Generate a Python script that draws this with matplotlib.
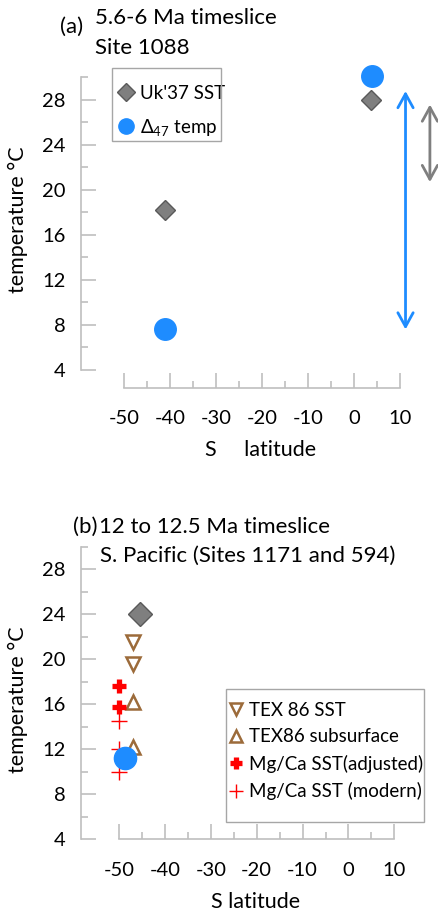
import matplotlib
matplotlib.use("Agg")
import matplotlib.pyplot as plt
from matplotlib.ticker import FixedLocator
from matplotlib.lines import Line2D
from matplotlib.patches import Rectangle

plt.rcParams['font.family'] = ['Lato', 'DejaVu Sans']
plt.rcParams['mathtext.fontset'] = 'custom'
plt.rcParams['mathtext.rm'] = 'Lato'
plt.rcParams['axes.unicode_minus'] = False

# ---- data ----
# panel (a): 5.6-6 Ma, Site 1088
a_uk_lat = [-41, 3.8]
a_uk_temp = [18.2, 28.0]
a_d47_lat = [-41, 4.0]
a_d47_temp = [7.6, 30.1]
a_blue_arrow = [11.2, 7.6, 28.8]   # lat, from, to
a_gray_arrow = [16.5, 20.7, 27.6]

# panel (b): 12 to 12.5 Ma, S. Pacific
b_uk_lat = [-45.4]
b_uk_temp = [24.0]
b_tex_sst_lat = [-47, -47]
b_tex_sst = [21.5, 19.6]
b_tex_sub_lat = [-47, -47]
b_tex_sub = [16.2, 12.2]
b_mg_adj_lat = [-49.9, -49.9]
b_mg_adj = [17.6, 15.8]
b_mg_mod_lat = [-50, -50, -50]
b_mg_mod = [14.5, 12.0, 10.0]
b_d47_lat = [-48.7]
b_d47_temp = [11.2]

x_major = [-50, -40, -30, -20, -10, 0, 10]
x_minor = [-45, -35, -25, -15, -5, 5]
y_major = [4, 8, 12, 16, 20, 24, 28]
y_minor = [6, 10, 14, 18, 22, 26, 30]

W, H = 438, 913
BLUE = '#1E8CFF'
GRAY = '#7f7f7f'
BROWN = '#9C6B3A'
RED = '#FF0000'
SPINE = '#bfbfbf'
FRAME = '#a6a6a6'

fig = plt.figure(figsize=(W / 100, H / 100), dpi=100)


def fx(px):
    return px / W


def fy(py):
    return 1 - py / H


def make_axes(x50px, pxx, y4px, pxy, top, bottom, xaxis_y):
    # axes covering pixel rows top..bottom, columns 81..438
    left, right = 81, W
    ax = fig.add_axes([left / W, 1 - bottom / H, (right - left) / W, (bottom - top) / H])
    ax.set_xlim(-50 + (left - x50px) / pxx, -50 + (right - x50px) / pxx)
    ax.set_ylim(4 - (bottom - y4px) / pxy, 4 + (y4px - top) / pxy)
    for s in ['top', 'right']:
        ax.spines[s].set_visible(False)
    for s in ['left', 'bottom']:
        ax.spines[s].set_color(SPINE)
        ax.spines[s].set_linewidth(1.2)
    ax.spines['left'].set_bounds(4, 30)
    ax.spines['bottom'].set_bounds(-50, 10)
    ax.spines['bottom'].set_position(('data', xaxis_y))
    ax.xaxis.set_major_locator(FixedLocator(x_major))
    ax.xaxis.set_minor_locator(FixedLocator(x_minor))
    ax.yaxis.set_major_locator(FixedLocator(y_major))
    ax.yaxis.set_minor_locator(FixedLocator(y_minor))
    ax.tick_params(which='major', direction='in', length=10.5, width=1.2,
                   color=SPINE, labelsize=14.5, pad=11)
    ax.tick_params(which='minor', direction='in', length=5, width=1.2, color=SPINE)
    ax.tick_params(axis='x', which='major', pad=16)
    ax.set_facecolor('none')
    return ax


def dbl_arrow(ax, lat, y0, y1, color):
    ax.annotate('', xy=(lat, y0), xytext=(lat, y1), annotation_clip=False,
                arrowprops=dict(arrowstyle='<->,head_length=1.0,head_width=0.55',
                                color=color, lw=2, shrinkA=0, shrinkB=0))


# ---------------- panel (a) ----------------
ax1 = make_axes(124, 4.6, 370, 11.25, 55, 400, 4 - (387.7 - 370) / 11.25)
ax1.plot(a_uk_lat, a_uk_temp, 'D', ms=10, color=GRAY, mec='#595959', mew=1, ls='none')
ax1.plot(a_d47_lat, a_d47_temp, 'o', ms=15.5, color=BLUE, ls='none')
dbl_arrow(ax1, a_blue_arrow[0], a_blue_arrow[1], a_blue_arrow[2], BLUE)
dbl_arrow(ax1, a_gray_arrow[0], a_gray_arrow[1], a_gray_arrow[2], GRAY)

h1 = [Line2D([], [], marker='D', ms=9, color=GRAY, mec='#595959', mew=1, ls='none'),
      Line2D([], [], marker='o', ms=11, color=BLUE, ls='none')]
ax1.legend(h1, ["Uk'37 SST", r'$\mathregular{\Delta_{47}}$ temp'],
           loc='upper left', bbox_to_anchor=(fx(117), fy(85)),
           bbox_transform=fig.transFigure, borderaxespad=0, borderpad=0,
           fontsize=13.5, frameon=False, handlelength=1, handletextpad=0.2,
           labelspacing=0.8)
fig.add_artist(Rectangle((fx(112), fy(141)), 109 / W, 73 / H, transform=fig.transFigure,
                         fill=False, ec=FRAME, lw=1))

fig.text(fx(60), fy(27), '(a)', fontsize=16, va='center', ha='left')
fig.text(fx(95), fy(18), '5.6-6 Ma timeslice', fontsize=16, va='center', ha='left')
fig.text(fx(95), fy(48), 'Site 1088', fontsize=16, va='center', ha='left')
fig.text(fx(18), fy(220), 'temperature \u00b0C', fontsize=15.5, rotation=90,
         va='center', ha='center')
fig.text(fx(261), fy(450), 'S     latitude', fontsize=15.5, va='center', ha='center')

# ---------------- panel (b) ----------------
ax2 = make_axes(119, 4.59, 839.3, 11.25, 520, 860, 4)
ax2.plot(b_uk_lat, b_uk_temp, 'D', ms=12, color=GRAY, mec='#595959', mew=1, ls='none')
ax2.plot(b_tex_sst_lat, b_tex_sst, 'v', ms=10, mfc='none', mec=BROWN, mew=1.8, ls='none')
ax2.plot(b_tex_sub_lat, b_tex_sub, '^', ms=10, mfc='none', mec=BROWN, mew=1.8, ls='none')
ax2.plot(b_mg_adj_lat, b_mg_adj, '+', ms=10, mec=RED, mew=3.8, ls='none')
ax2.plot(b_mg_mod_lat, b_mg_mod, '+', ms=11, mec=RED, mew=1, ls='none')
ax2.plot(b_d47_lat, b_d47_temp, 'o', ms=16, color=BLUE, ls='none')

h2 = [Line2D([], [], marker='v', ms=9, mfc='none', mec=BROWN, mew=1.8, ls='none'),
      Line2D([], [], marker='^', ms=8, mfc='none', mec=BROWN, mew=1.8, ls='none'),
      Line2D([], [], marker='+', ms=9, mec=RED, mew=3.8, ls='none'),
      Line2D([], [], marker='+', ms=10, mec=RED, mew=1, ls='none')]
ax2.legend(h2, ['TEX 86 SST', 'TEX86 subsurface', 'Mg/Ca SST(adjusted)', 'Mg/Ca SST (modern)'],
           loc='upper left', bbox_to_anchor=(fx(227), fy(702)),
           bbox_transform=fig.transFigure, borderaxespad=0, borderpad=0,
           fontsize=13.5, frameon=False, handlelength=1, handletextpad=0.15,
           labelspacing=0.5)
fig.add_artist(Rectangle((fx(226), fy(822)), 198 / W, 133 / H, transform=fig.transFigure,
                         fill=False, ec=FRAME, lw=1))

fig.text(fx(73), fy(527), '(b)', fontsize=16, va='center', ha='left')
fig.text(fx(99), fy(527), '12 to 12.5 Ma timeslice', fontsize=16, va='center', ha='left')
fig.text(fx(100), fy(556), 'S. Pacific (Sites 1171 and 594)', fontsize=16,
         va='center', ha='left')
fig.text(fx(18), fy(700), 'temperature \u00b0C', fontsize=15.5, rotation=90,
         va='center', ha='center')
fig.text(fx(256), fy(902), 'S latitude', fontsize=15.5, va='center', ha='center')

fig.savefig('out.png', dpi=100)
